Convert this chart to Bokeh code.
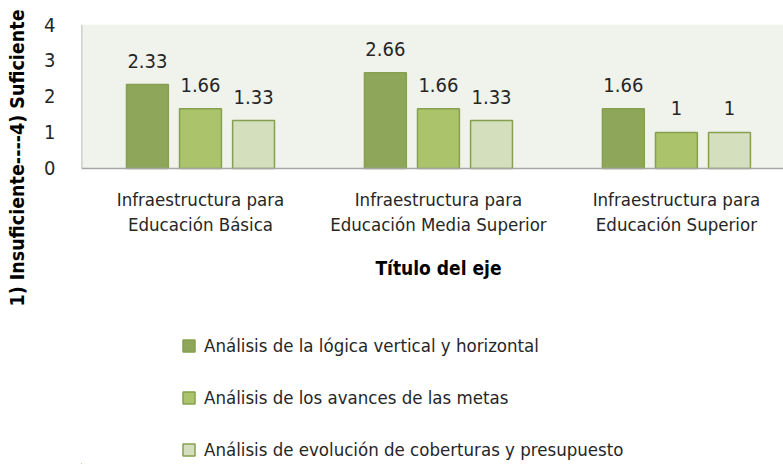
from bokeh.plotting import figure
from bokeh.layouts import column
from bokeh.models import (ColumnDataSource, Range1d, Legend, LegendItem, FixedTicker,
                          BoxAnnotation)
from bokeh.transform import dodge
from bokeh.core.properties import value
from bokeh.embed import file_html
from bokeh.resources import INLINE

categories = ["Infraestructura para\nEducación Básica",
              "Infraestructura para\nEducación Media Superior",
              "Infraestructura para\nEducación Superior"]
series_names = ["Análisis de la lógica vertical y horizontal",
                "Análisis de los avances de las metas",
                "Análisis de evolución de coberturas y presupuesto"]
logica = [2.33, 2.66, 1.66]
avances = [1.66, 1.66, 1.0]
evolucion = [1.33, 1.33, 1.0]
labels_logica = ["2.33", "2.66", "1.66"]
labels_avances = ["1.66", "1.66", "1"]
labels_evolucion = ["1.33", "1.33", "1"]
y_ticks = [0, 1, 2, 3, 4]
x_title = "Título del eje"
y_title = "1) Insuficiente----4) Suficiente"

FONT = "DejaVu Sans Condensed"
colors = ["#8ea65a", "#abc46b", "#d3dfbd"]
edge = "#86a04f"
txt = "#262626"
bg = "#f0f2ec"
axis_col = "#a6a6a6"

Y_MIN, Y_MAX = 0, 4
X_END = 2.95
Y_LOW = -3.4167  # space below zero that holds the category labels

xpos = [i + 0.5 for i in range(len(categories))]
zeros = [0] * len(categories)
src = ColumnDataSource(dict(x=xpos, z=zeros, cat=categories, a=logica, b=avances, c=evolucion,
                            la=labels_logica, lb=labels_avances, lc=labels_evolucion))

p = figure(width=783, height=318, output_backend="svg", toolbar_location=None,
           x_range=Range1d(0, X_END), y_range=Range1d(Y_LOW, Y_MAX),
           x_axis_location=None,
           min_border_left=81, min_border_right=0, min_border_top=24, min_border_bottom=27)
p.background_fill_color = "white"
p.border_fill_color = "white"
p.outline_line_color = None
p.xgrid.visible = False
p.ygrid.visible = False

p.add_layout(BoxAnnotation(bottom=Y_MIN, top=Y_MAX, fill_color=bg, fill_alpha=1,
                           line_color=None, level="underlay"))

bw = 0.176
off = 0.223
series = [("a", "la", -off, colors[0]), ("b", "lb", 0, colors[1]), ("c", "lc", off, colors[2])]
for col, lab, d, c in series:
    p.vbar(x=dodge("x", d), top=col, width=bw, source=src, fill_color=c,
           line_color=edge, line_width=1.5)
    p.text(x=dodge("x", d), y=col, text=lab, source=src, text_align="center",
           text_baseline="bottom", y_offset=-17, text_font=value(FONT),
           text_font_size="20px", text_color=txt)

# axis lines of the plot area
p.segment(x0=[0, 0], y0=[Y_MIN, Y_MIN], x1=[0, X_END], y1=[Y_MAX, Y_MIN],
          line_color=axis_col, line_width=1.5)

# category labels and x title
p.text(x="x", y="z", text="cat", source=src, text_align="center", text_baseline="top",
       y_offset=21, text_font=value(FONT), text_font_size="18.5px", text_color=txt,
       text_line_height=1.18)
p.text(x=[xpos[1]], y=[0], text=[x_title], text_align="center", text_baseline="middle",
       y_offset=100, text_font=value(FONT), text_font_style="bold",
       text_font_size="19px", text_color="#000000")

# y axis
p.yaxis.ticker = FixedTicker(ticks=y_ticks)
p.yaxis.major_tick_line_color = None
p.yaxis.minor_tick_line_color = None
p.yaxis.major_tick_out = 0
p.yaxis.major_tick_in = 0
p.yaxis.axis_line_color = None
p.yaxis.major_label_text_font = FONT
p.yaxis.major_label_text_font_size = "20px"
p.yaxis.major_label_text_color = txt
p.yaxis.major_label_standoff = 26
p.yaxis.axis_label = y_title
p.yaxis.axis_label_text_font = FONT
p.yaxis.axis_label_text_font_style = "bold"
p.yaxis.axis_label_text_font_size = "19.5px"
p.yaxis.axis_label_text_color = "#000000"
p.yaxis.axis_label_standoff = 12

# legend figure: a copy of the bars kept out of its visible range supplies the keys
q = figure(width=783, height=146, output_backend="svg", toolbar_location=None,
           x_range=Range1d(100, 101), y_range=Range1d(100, 101),
           x_axis_location=None, y_axis_location=None, min_border=0)
q.outline_line_color = None
q.xgrid.visible = False
q.ygrid.visible = False
leg_r = [q.vbar(x=dodge("x", d), top=col, width=bw, source=src, fill_color=c,
                line_color=edge, line_width=1.5) for col, lab, d, c in series]
legend = Legend(items=[LegendItem(label=n, renderers=[r]) for n, r in zip(series_names, leg_r)],
                location=(100, 4), orientation="vertical", spacing=30,
                glyph_width=15, glyph_height=15, label_height=22, label_standoff=8,
                padding=0, margin=0, border_line_color=None, background_fill_alpha=0,
                label_text_font=FONT, label_text_font_size="18.5px", label_text_color=txt)
q.add_layout(legend)

open("out.html", "w").write(file_html(column(p, q, spacing=0), INLINE))
